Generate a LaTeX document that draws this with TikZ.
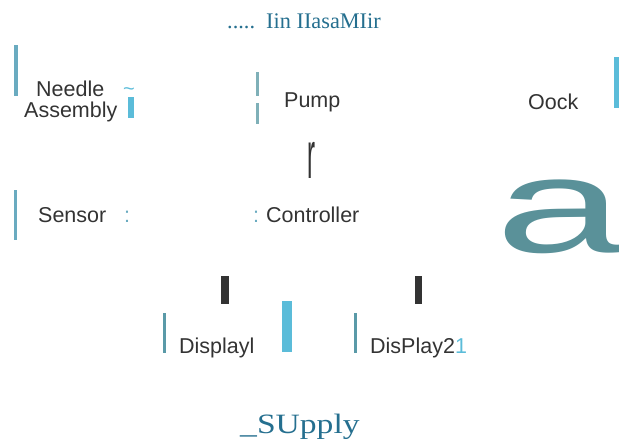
\documentclass[tikz,border=0pt]{standalone}
\usepackage{fontspec}
\setmainfont{Liberation Sans}
\newfontfamily\serifx{Liberation Serif}
\definecolor{titleteal}{HTML}{256F8F}
\definecolor{txtgray}{HTML}{333333}
\definecolor{barcyan}{HTML}{5BBCD9}
\definecolor{barteal}{HTML}{6AABC0}
\definecolor{pumpbar}{HTML}{7FB0B8}
\definecolor{dispbar}{HTML}{5A9AA8}
\definecolor{bigateal}{HTML}{5A9199}
\definecolor{darkbar}{HTML}{333333}
\tikzset{
  lbl/.style={anchor=base west, inner sep=0pt, text=txtgray, font=\fontsize{21.5}{23}\selectfont},
  sertxt/.style={anchor=base west, inner sep=0pt, text=titleteal, font=\serifx\fontsize{22.3}{25}\selectfont},
}
\begin{document}
\begin{tikzpicture}[x=1pt,y=-1pt]
\useasboundingbox (0,0) rectangle (619,442);
% title
\node[sertxt] (title) at (227,28) {.....\ \ Iin IIasaMIir};
% needle assembly
\fill[barteal] (14,45) rectangle (18,96);
\node[lbl] (needle) at (36,96) {Needle};
\node[lbl] (assembly) at (24,117) {Assembly};
\node[anchor=base west, inner sep=0pt, text=barcyan, font=\fontsize{20}{22}\selectfont] (tilde) at (123,95) {\char`\~};
\fill[barcyan] (128,97) rectangle (134,118);
% pump
\fill[pumpbar] (256,72) rectangle (259,96);
\fill[pumpbar] (256,103) rectangle (259,124);
\node[lbl] (pump) at (284,107) {Pump};
\node[anchor=base west, inner sep=0pt, text=txtgray, font=\fontsize{24}{26}\selectfont] (rglyph) at (307,178) {\scalebox{1}[2.8]{r}};
% oock
\node[lbl] (oock) at (528,109) {Oock};
\fill[barcyan] (614,57) rectangle (619,108);
% big a
\node[anchor=base west, inner sep=0pt, text=bigateal, font=\fontsize{135}{140}\selectfont] (biga) at (495,252) {\scalebox{1.72}[1]{a}};
% sensor / controller
\fill[barteal] (14,190) rectangle (17,240);
\node[lbl] (sensor) at (38,222) {Sensor};
\node[lbl, text=barteal] (colon1) at (124,222) {:};
\node[lbl, text=barteal] (colon2) at (253,222) {:};
\node[lbl] (controller) at (266,222) {Controller};
% dark bars
\fill[darkbar] (221,276) rectangle (229,304);
\fill[darkbar] (415,276) rectangle (422,304);
% displays
\fill[dispbar] (163,313) rectangle (166,353);
\node[lbl] (display1) at (179,353) {Displayl};
\fill[barcyan] (282,301) rectangle (292,352);
\fill[dispbar] (354,313) rectangle (357,353);
\node[lbl] (display2) at (370,353) {DisPlay2\textcolor{barcyan}{1}};
% supply
\node[sertxt, font=\serifx\fontsize{28}{30}\selectfont] (supply) at (240,433) {\scalebox{1.2}[1]{\_SUpply}};
\end{tikzpicture}
\end{document}
